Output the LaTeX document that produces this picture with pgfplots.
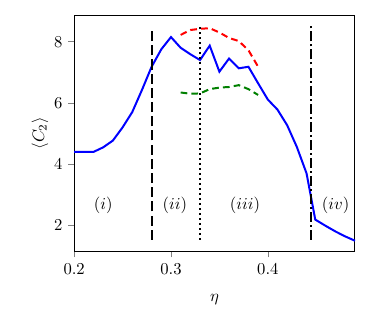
\documentclass[border=0pt]{standalone}
\usepackage{pgfplots}
\pgfplotsset{compat=1.18}
\begin{document}
\begin{tikzpicture}
\begin{axis}[
  scale only axis,
  width=168.2bp, height=141.6bp,
  xmin=0.2, xmax=0.49, ymin=1.15, ymax=8.87,
  xtick={0.2,0.3,0.4}, ytick={2,4,6,8},
  xticklabels={0.2,0.3,0.4},
  tick align=outside, xtick pos=bottom, ytick pos=left,
  major tick length=3.5bp,
  xlabel={$\eta$}, ylabel={$\langle C_2\rangle$},
  every axis x label/.style={at={(axis description cs:0.5,0)},anchor=north,yshift=-22bp},
  every axis y label/.style={at={(axis description cs:0,0.5)},anchor=south,rotate=90,yshift=12bp},
  axis line style={line width=0.6pt},
  clip=false,
]
\addplot[blue, line width=1.2pt] coordinates {
(0.20,4.40) (0.22,4.40) (0.23,4.55) (0.24,4.77) (0.25,5.20) (0.26,5.70)
(0.27,6.42) (0.28,7.18) (0.29,7.75) (0.30,8.15) (0.31,7.80) (0.32,7.59)
(0.33,7.40) (0.34,7.87) (0.35,7.02) (0.36,7.45) (0.37,7.13) (0.38,7.18)
(0.39,6.64) (0.40,6.11) (0.41,5.78) (0.42,5.27) (0.43,4.56) (0.44,3.70)
(0.449,2.19) (0.46,1.98) (0.47,1.80) (0.48,1.64) (0.49,1.50)
};
\addplot[red, line width=1.2pt, dash pattern=on 4bp off 2.5bp] coordinates {
(0.31,8.22) (0.32,8.38) (0.33,8.42) (0.34,8.44) (0.35,8.30) (0.36,8.12)
(0.37,8.02) (0.38,7.72) (0.39,7.18)
};
\addplot[green!50!black, line width=1.2pt, dash pattern=on 4bp off 2.5bp] coordinates {
(0.31,6.34) (0.32,6.30) (0.33,6.31) (0.34,6.45) (0.35,6.50) (0.36,6.52)
(0.37,6.58) (0.38,6.45) (0.39,6.26)
};
\addplot[black, line width=1.1pt, dash pattern=on 6bp off 2.5bp] coordinates {(0.28,1.53) (0.28,8.45)};
\addplot[black, line width=1.1pt, dash pattern=on 1.2bp off 1.8bp] coordinates {(0.33,1.53) (0.33,8.5)};
\addplot[black, line width=1.1pt, dash pattern=on 6bp off 1.8bp on 1.2bp off 1.8bp] coordinates {(0.445,1.53) (0.445,8.5)};
\node at (axis cs:0.23,2.65) {$(i)$};
\node at (axis cs:0.304,2.65) {$(ii)$};
\node at (axis cs:0.3765,2.65) {$(iii)$};
\node at (axis cs:0.47,2.65) {$(iv)$};
\end{axis}
\path ([shift={(-44.4bp,-38.4bp)}]current axis.south west) rectangle ([shift={(10.8bp,9bp)}]current axis.north east);
\end{tikzpicture}
\end{document}
